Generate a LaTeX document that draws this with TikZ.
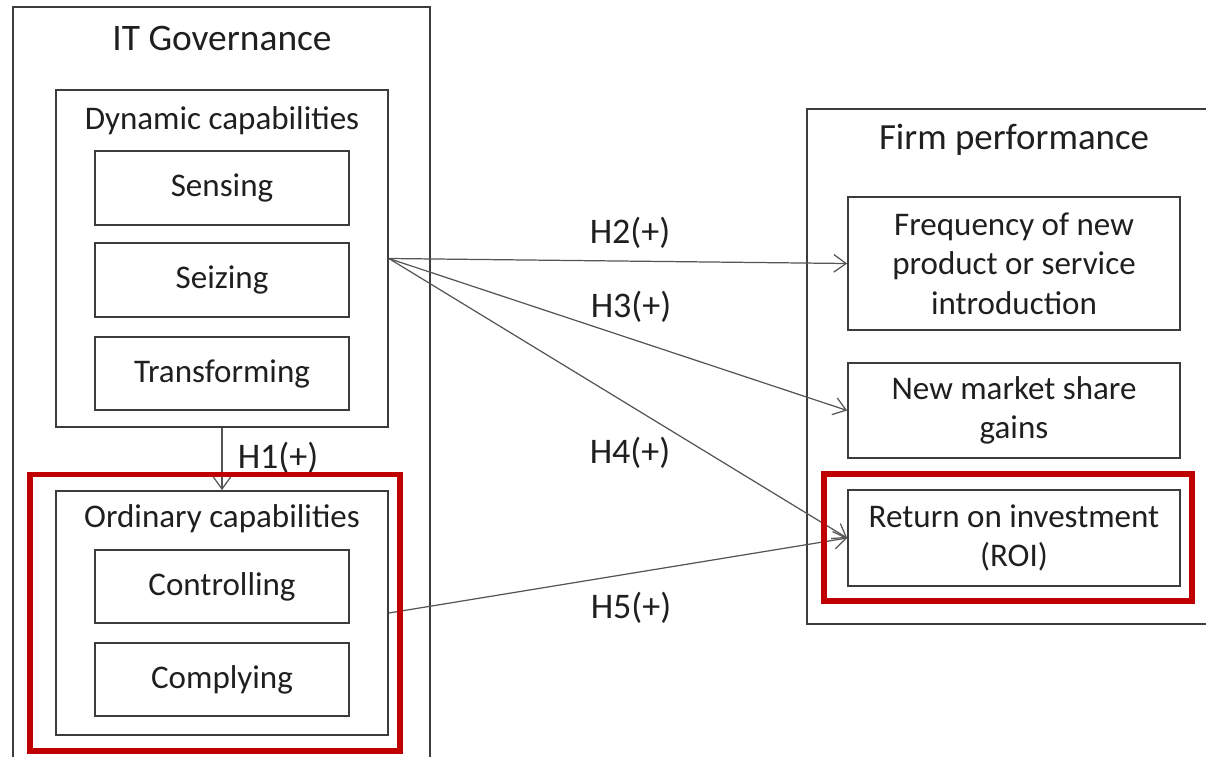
\documentclass[tikz,border=0pt]{standalone}
\usepackage{fontspec}
\setmainfont{Carlito}
\usetikzlibrary{arrows.meta}
\usetikzlibrary{positioning}

\definecolor{boxgray}{HTML}{3C3C3C}
\definecolor{arrgray}{HTML}{555555}
\definecolor{markred}{HTML}{C00000}

\tikzset{
  box/.style={draw=boxgray, line width=1pt, rectangle, inner sep=0pt, align=center,
    text=black!88, font=\fontsize{18.8}{22.5}\selectfont},
  title/.style={text=black!88, inner sep=0pt},
  hypo/.style={draw=arrgray, line width=0.7pt, -{Straight Barb[length=7pt,width=10pt]}},
  hlabel/.style={text=black!88, inner sep=0pt, font=\fontsize{20.5}{24}\selectfont},
  redmark/.style={draw=markred, line width=3.4pt}
}

\begin{document}
\begin{tikzpicture}[x=0.02cm, y=-0.02cm]
  \useasboundingbox (0,0) rectangle (1206,757);

  % IT Governance
  \draw[boxgray, line width=1pt] (13,757) -- (13,7) -- (430,7) -- (430,757);
  \node[title, font=\fontsize{21.3}{25}\selectfont] (itgov) at (222,38) {IT Governance};

  \node[box, minimum width=6.64cm, minimum height=6.74cm] (dyncap) at (222,258.5) {};
  \node[title, font=\fontsize{18.8}{22.5}\selectfont] (dyntitle) at (222,121) {Dynamic capabilities};
  \node[box, minimum width=5.08cm, minimum height=1.48cm] (sensing) at (222,188) {Sensing};
  \node[box, minimum width=5.08cm, minimum height=1.48cm] (seizing) at (222,280) {Seizing};
  \node[box, minimum width=5.08cm, minimum height=1.46cm] (transforming) at (222,373.5) {Transforming};

  \node[box, minimum width=6.64cm, minimum height=4.88cm] (ordcap) at (222,613) {};
  \node[title, font=\fontsize{18.8}{22.5}\selectfont] (ordtitle) at (222,519) {Ordinary capabilities};
  \node[box, minimum width=5.08cm, minimum height=1.46cm] (controlling) at (222,586.5) {Controlling};
  \node[box, minimum width=5.08cm, minimum height=1.46cm] (complying) at (222,679.5) {Complying};

  % Firm performance
  \draw[boxgray, line width=1pt] (1210,109) -- (807,109) -- (807,624) -- (1210,624);
  \node[title, font=\fontsize{21}{25}\selectfont] (firmperf) at (1014,140) {Firm performance};
  \node[box, minimum width=6.64cm, minimum height=2.66cm] (freq) at (1014,263.5) {Frequency of new\\product or service\\introduction};
  \node[box, minimum width=6.64cm, minimum height=1.9cm] (market) at (1014,410.5) {New market share\\gains};
  \node[box, minimum width=6.64cm, minimum height=1.92cm] (roi) at (1014,538) {Return on investment\\(ROI)};

  % Hypothesen
  \draw[hypo] (dyncap.south) -- (ordcap.north);
  \draw[hypo] (dyncap.east) -- (freq.west);
  \draw[hypo] (dyncap.east) -- (market.west);
  \draw[hypo] (dyncap.east) -- (roi.west);
  \draw[hypo] (ordcap.east) -- (roi.west);

  \node[hlabel] (h1) at (278,458) {H1(+)};
  \node[hlabel] (h2) at (630,233) {H2(+)};
  \node[hlabel] (h3) at (631,307) {H3(+)};
  \node[hlabel] (h4) at (630,453) {H4(+)};
  \node[hlabel] (h5) at (631,608) {H5(+)};

  % Markierungen
  \draw[redmark] (30,474.5) rectangle (400,751);
  \draw[redmark] (824,474) rectangle (1192,601);
\end{tikzpicture}
\end{document}
